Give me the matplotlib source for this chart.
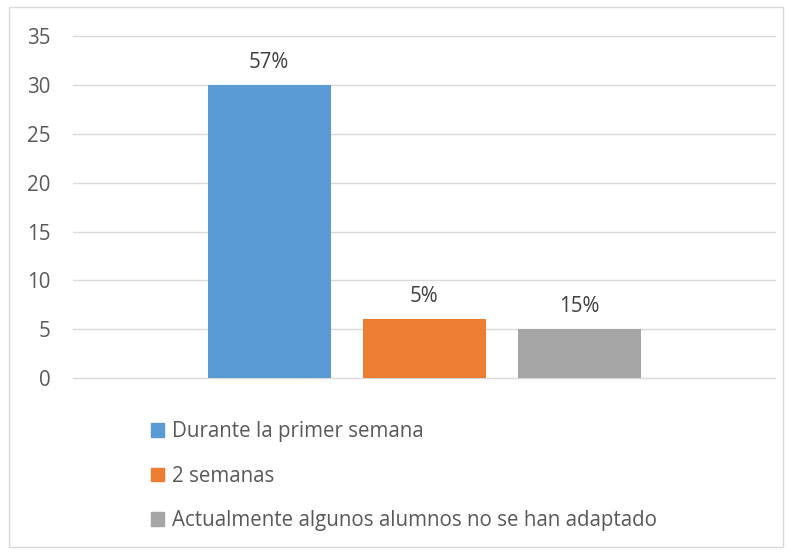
import matplotlib
matplotlib.use("Agg")
import matplotlib.pyplot as plt
from matplotlib.patches import Rectangle, Patch

series = ["Durante la primer semana", "2 semanas", "Actualmente algunos alumnos no se han adaptado"]
values = [30, 6, 5]
labels = ["57%", "5%", "15%"]
colors = ["#5b9bd5", "#ed7d31", "#a5a5a5"]
yticks = [0, 5, 10, 15, 20, 25, 30, 35]

plt.rcParams['font.family'] = ['Open Sans', 'DejaVu Sans']
txt = "#595959"
fs = 14.8

fig = plt.figure(figsize=(7.9, 5.52), dpi=100)
fig.patches.append(Rectangle((9/790, 1-547/552), 774/790, 540/552, transform=fig.transFigure,
                             fill=False, edgecolor="#d9d9d9", linewidth=1.0))
ax = fig.add_axes([73/790, 1-378/552, 702/790, 341.6/552])

width = 123/702
step = 155/702
for i, (v, lab, c) in enumerate(zip(values, labels, colors)):
    x = (i - 1) * step
    ax.bar(x, v, width=width, color=c, zorder=3)
    ax.annotate(lab, (x, v), xytext=(0, 9), textcoords="offset points",
                ha="center", va="bottom", fontsize=fs, color="#404040")

ax.set_xlim(-0.5, 0.5)
ax.set_ylim(0, 35)
ax.set_yticks(yticks)
ax.set_xticks([])
ax.grid(axis="y", color="#d9d9d9", linewidth=1.0, zorder=0)
for gl in ax.get_ygridlines():
    gl.set_clip_on(False)
for s in ax.spines.values():
    s.set_visible(False)
ax.tick_params(axis="y", length=0, pad=16, labelsize=fs, labelcolor=txt)

handles = [Patch(color=c) for c in colors]
fig.legend(handles, series, loc="upper left", bbox_to_anchor=(151/790, 1-421/552),
           frameon=False, fontsize=fs, labelcolor=txt, handlelength=0.65, handleheight=0.65,
           handletextpad=0.35, labelspacing=1.15, borderaxespad=0, borderpad=0)

fig.savefig("out.png", dpi=100)
